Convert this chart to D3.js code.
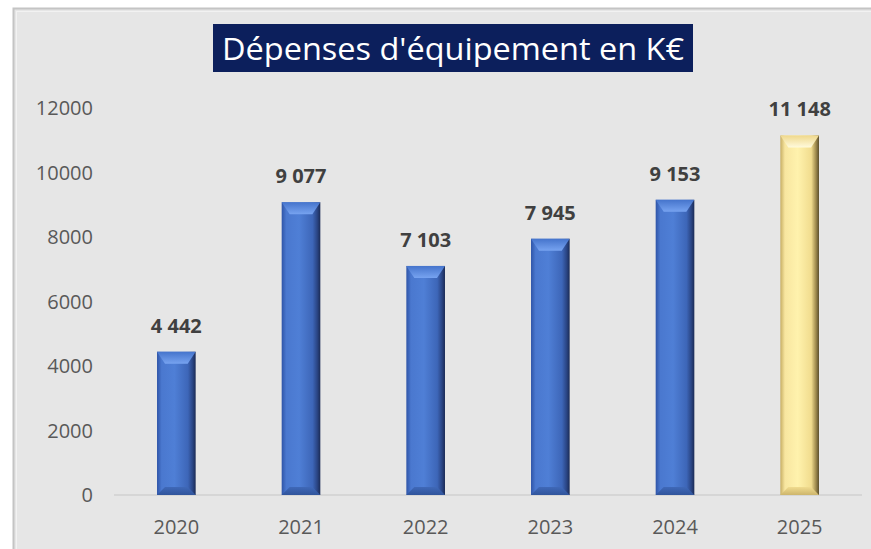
<!DOCTYPE html>
<html>
<head>
<meta charset="utf-8">
<script src="https://cdn.jsdelivr.net/npm/d3@7"></script>
<style>
  body { margin: 0; background: #ffffff; }
  svg { display: block; }
</style>
</head>
<body>
<div id="chart"></div>
<script>
var years = ["2020", "2021", "2022", "2023", "2024", "2025"];
var values = [4442, 9077, 7103, 7945, 9153, 11148];
var yTicks = [0, 2000, 4000, 6000, 8000, 10000, 12000];
var title = "Dépenses d'équipement en K€";

var width = 871,
    height = 549;

var svg = d3.select("#chart")
  .append("svg")
  .attr("width", width)
  .attr("height", height);

// fond + cadre
svg.append("rect")
  .attr("x", 13.5).attr("y", 8.5)
  .attr("width", width).attr("height", height)
  .attr("fill", "#e6e6e6")
  .attr("stroke", "#c4c4c4")
  .attr("stroke-width", 2);
svg.append("rect")
  .attr("x", 16.5).attr("y", 11.5)
  .attr("width", width).attr("height", height)
  .attr("fill", "none")
  .attr("stroke", "#f2f2f2")
  .attr("stroke-width", 1);

var x = d3.scaleBand()
  .domain(years)
  .range([114, 862])
  .paddingInner(0.69)
  .paddingOuter(0.345);

var y = d3.scaleLinear()
  .domain([0, 12000])
  .range([495, 108]);

var fmt = function(v) { return d3.format(",")(v).replace(/,/g, " "); };

// gradients
var defs = svg.append("defs");
function hGrad(id, stops) {
  var g = defs.append("linearGradient").attr("id", id)
    .attr("x1", "0%").attr("x2", "100%").attr("y1", "0%").attr("y2", "0%");
  stops.forEach(function(s) {
    g.append("stop").attr("offset", s[0]).attr("stop-color", s[1]);
  });
}
function vGrad(id, stops) {
  var g = defs.append("linearGradient").attr("id", id)
    .attr("x1", "0%").attr("x2", "0%").attr("y1", "0%").attr("y2", "100%");
  stops.forEach(function(s) {
    g.append("stop").attr("offset", s[0]).attr("stop-color", s[1]);
  });
}
hGrad("blueBody", [["0%", "#2f55a8"], ["12%", "#4a78cf"], ["45%", "#4f7fd6"], ["80%", "#3d66b8"], ["92%", "#2a4584"], ["100%", "#1b2b55"]]);
vGrad("blueTop", [["0%", "#4574cc"], ["100%", "#77a3f0"]]);
vGrad("blueBottom", [["0%", "#3f68b8"], ["100%", "#30549c"]]);
hGrad("goldBody", [["0%", "#c7ae64"], ["12%", "#f8e6a0"], ["45%", "#fff2ad"], ["80%", "#f1dc8e"], ["92%", "#a08b4e"], ["100%", "#5a4e2c"]]);
vGrad("goldTop", [["0%", "#efd88c"], ["100%", "#fffadc"]]);
vGrad("goldBottom", [["0%", "#f0db8e"], ["100%", "#cdb56c"]]);

// axe Y (étiquettes seulement)
svg.append("g")
  .selectAll("text")
  .data(yTicks)
  .enter()
  .append("text")
  .attr("x", 93)
  .attr("y", d => y(d))
  .attr("dy", "0.35em")
  .attr("text-anchor", "end")
  .attr("font-family", "'Open Sans', sans-serif")
  .attr("font-size", 20)
  .attr("fill", "#595959")
  .text(d => d);

// ligne de base
svg.append("line")
  .attr("x1", 114).attr("x2", 862)
  .attr("y1", y(0)).attr("y2", y(0))
  .attr("stroke", "#d6d6d6")
  .attr("stroke-width", 2);

// barres
var bars = svg.append("g")
  .selectAll("g")
  .data(values)
  .enter()
  .append("g");

var bev = 8;
function gold(i) { return i === values.length - 1; }

bars.append("rect")
  .attr("x", (d, i) => x(years[i]))
  .attr("y", d => y(d))
  .attr("width", x.bandwidth())
  .attr("height", d => y(0) - y(d))
  .attr("fill", (d, i) => gold(i) ? "url(#goldBody)" : "url(#blueBody)");

// biseau haut
bars.append("polygon")
  .attr("points", function(d, i) {
    var x0 = x(years[i]), x1 = x0 + x.bandwidth(), t = y(d);
    return [[x0, t], [x1, t], [x1 - bev, t + bev + 4], [x0 + bev, t + bev + 4]].join(" ");
  })
  .attr("fill", (d, i) => gold(i) ? "url(#goldTop)" : "url(#blueTop)");

// biseau bas
bars.append("polygon")
  .attr("points", function(d, i) {
    var x0 = x(years[i]), x1 = x0 + x.bandwidth(), b = y(0);
    return [[x0, b], [x1, b], [x1 - bev, b - bev], [x0 + bev, b - bev]].join(" ");
  })
  .attr("fill", (d, i) => gold(i) ? "url(#goldBottom)" : "url(#blueBottom)");

// étiquettes de valeur
svg.append("g")
  .selectAll("text")
  .data(values)
  .enter()
  .append("text")
  .attr("x", (d, i) => x(years[i]) + x.bandwidth() / 2)
  .attr("y", d => y(d) - 19)
  .attr("text-anchor", "middle")
  .attr("font-family", "'Open Sans', sans-serif")
  .attr("font-weight", "bold")
  .attr("font-size", 20)
  .attr("fill", "#404040")
  .text(d => fmt(d));

// axe X
svg.append("g")
  .selectAll("text")
  .data(years)
  .enter()
  .append("text")
  .attr("x", d => x(d) + x.bandwidth() / 2)
  .attr("y", 534)
  .attr("text-anchor", "middle")
  .attr("font-family", "'Open Sans', sans-serif")
  .attr("font-size", 20)
  .attr("fill", "#595959")
  .text(d => d);

// titre
svg.append("rect")
  .attr("x", 213).attr("y", 24)
  .attr("width", 480).attr("height", 48)
  .attr("fill", "#0c1f5c");
svg.append("text")
  .attr("x", 453)
  .attr("y", 60)
  .attr("text-anchor", "middle")
  .attr("font-family", "'Open Sans', sans-serif")
  .attr("font-size", 31)
  .attr("fill", "#ffffff")
  .attr("textLength", 462)
  .attr("lengthAdjust", "spacingAndGlyphs")
  .text(title);
</script>
</body>
</html>
